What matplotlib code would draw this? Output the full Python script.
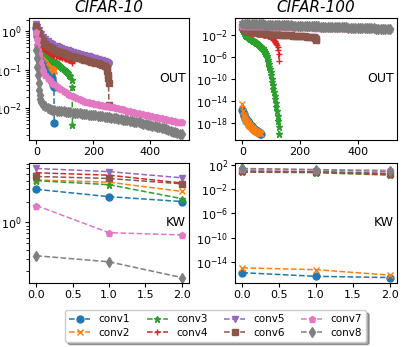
import numpy as np
import matplotlib
matplotlib.use("Agg")
import matplotlib.pyplot as plt

names = ["conv1", "conv2", "conv3", "conv4", "conv5", "conv6", "conv7", "conv8"]
colors = ["#1f77b4", "#ff7f0e", "#2ca02c", "#d62728", "#9467bd", "#8c564b", "#e377c2", "#7f7f7f"]
markers = ["o", "x", "*", "+", "v", "s", "p", "d"]

# ---------------- sample positions (index of sorted value) ----------------
idx_64 = list(range(0, 63, 2)) + [63]
c10_idx_128 = [0, 2] + list(range(4, 125, 4)) + [126, 127]
c10_idx_256 = [0, 4] + list(range(8, 249, 8)) + [250, 252, 253, 254, 255]
c10_idx_512 = list(range(0, 21, 2)) + list(range(24, 505, 8)) + [511]
c100_idx_128 = list(range(0, 127, 2)) + [127]
c100_idx_256 = list(range(0, 249, 8)) + [252, 254, 255]
c100_idx_512 = list(range(0, 505, 8)) + [511]

# ---------------- CIFAR-10, OUT ----------------
c10_conv1 = [1.2, 0.9, 0.75, 0.66, 0.59, 0.53, 0.48, 0.44, 0.41, 0.38, 0.35, 0.32, 0.3, 0.28,
             0.26, 0.245, 0.23, 0.215, 0.2, 0.18, 0.16, 0.14, 0.125, 0.11, 0.095, 0.082, 0.07,
             0.06, 0.052, 0.045, 0.04, 0.035, 0.0042]
c10_conv2 = [1.4, 1.0, 0.85, 0.75, 0.67, 0.6, 0.55, 0.5, 0.46, 0.43, 0.4, 0.37, 0.34, 0.32,
             0.3, 0.28, 0.26, 0.245, 0.23, 0.215, 0.2, 0.19, 0.175, 0.16, 0.15, 0.14, 0.13,
             0.12, 0.115, 0.11, 0.105, 0.1, 0.095]
c10_conv3 = [1.4, 1.0,
             0.8, 0.6, 0.5, 0.44, 0.39, 0.35, 0.31, 0.28, 0.26, 0.24,
             0.225, 0.21, 0.197, 0.185, 0.175, 0.165, 0.156, 0.148, 0.14, 0.133,
             0.126, 0.119, 0.112, 0.105, 0.099, 0.093, 0.087, 0.081, 0.075, 0.068,
             0.055,
             0.035, 0.0036]
c10_conv4 = [1.5, 1.1,
             0.9, 0.68, 0.55, 0.47, 0.41, 0.37, 0.34, 0.32, 0.305, 0.29, 0.28, 0.27, 0.26,
             0.25, 0.245, 0.24, 0.235, 0.23, 0.225, 0.22, 0.215, 0.21, 0.205, 0.2, 0.196, 0.192,
             0.188, 0.184, 0.18, 0.176, 0.17,
             0.165, 0.155]
c10_conv5 = [1.6, 1.3,
             1.1, 0.85, 0.72, 0.63, 0.56, 0.5, 0.46, 0.43, 0.41, 0.39,
             0.37, 0.35, 0.335, 0.32, 0.305, 0.29, 0.28, 0.27, 0.26, 0.25,
             0.24, 0.232, 0.224, 0.215, 0.207, 0.2, 0.192, 0.184, 0.176, 0.168,
             0.16,
             0.155, 0.15, 0.145, 0.14, 0.13]
c10_conv6 = [1.4, 1.1,
             0.9, 0.68, 0.56, 0.48, 0.43, 0.39, 0.36, 0.335, 0.315, 0.3,
             0.285, 0.27, 0.258, 0.246, 0.235, 0.225, 0.216, 0.207, 0.199, 0.192,
             0.185, 0.178, 0.171, 0.165, 0.159, 0.153, 0.147, 0.141, 0.135, 0.128,
             0.115,
             0.095, 0.075, 0.06, 0.045, 0.012]
c10_conv7 = [0.95, 0.65, 0.45, 0.33, 0.26, 0.21, 0.175, 0.15, 0.13, 0.115, 0.105,
             0.092, 0.075, 0.063, 0.054, 0.047, 0.042, 0.038, 0.034, 0.031, 0.028,
             0.026, 0.024, 0.0225, 0.021, 0.0197, 0.0185, 0.0175, 0.0166, 0.0158, 0.015,
             0.0145, 0.014, 0.0135, 0.0131, 0.0127, 0.0124, 0.0121, 0.0118, 0.0115, 0.0112,
             0.0109, 0.0106, 0.0103, 0.01, 0.0097, 0.0094, 0.0091, 0.0088, 0.0085, 0.0082,
             0.008, 0.0078, 0.0075, 0.0073, 0.0071, 0.0069, 0.0067, 0.0065, 0.0063, 0.0061,
             0.0059, 0.0057, 0.0055, 0.0054, 0.0052, 0.0051, 0.0049, 0.0048, 0.0046, 0.0045,
             0.0044, 0.0043]
c10_conv8 = [0.33, 0.2, 0.12, 0.075, 0.045, 0.03, 0.022, 0.018, 0.016, 0.0145, 0.0135,
             0.0125, 0.0115, 0.0105, 0.0097, 0.0092, 0.0089, 0.0087, 0.0085, 0.0084, 0.0083,
             0.0082, 0.008, 0.0079, 0.0078, 0.0076, 0.0075, 0.0074, 0.0072, 0.0071, 0.007,
             0.0069, 0.0068, 0.0067, 0.0066, 0.0065, 0.0064, 0.0062, 0.0061, 0.006, 0.0059,
             0.0057, 0.0056, 0.0055, 0.0054, 0.0053, 0.0051, 0.005, 0.0049, 0.0048, 0.0046,
             0.0045, 0.0044, 0.0043, 0.0041, 0.004, 0.0039, 0.0038, 0.0037, 0.0035, 0.0034,
             0.0033, 0.0032, 0.0031, 0.003, 0.0029, 0.0028, 0.0026, 0.0025, 0.0024, 0.0023,
             0.0022, 0.0021]

# ---------------- CIFAR-100, OUT (log10 of values) ----------------
c100_conv1_log = [-15.6, -16.0, -16.4, -16.7, -16.9, -17.1, -17.3, -17.45, -17.6, -17.75, -17.9,
                  -18.0, -18.15, -18.3, -18.4, -18.5, -18.65, -18.75, -18.85, -18.95, -19.05,
                  -19.15, -19.25, -19.35, -19.45, -19.5, -19.6, -19.65, -19.7, -19.8, -19.85,
                  -19.95, -20.1]
c100_conv2_log = [-14.6, -15.8, -16.5, -16.9, -17.2, -17.4, -17.6, -17.75, -17.9, -18.05, -18.2,
                  -18.3, -18.45, -18.55, -18.65, -18.75, -18.85, -18.95, -19.05, -19.15, -19.25,
                  -19.35, -19.4, -19.5, -19.55, -19.6, -19.65, -19.7, -19.75, -19.8, -19.85,
                  -19.9, -19.95]
c100_conv3_log = [-1.0, -1.3, -1.6, -1.75, -1.9, -2.0, -2.1, -2.2, -2.3, -2.4,
                  -2.5, -2.57, -2.65, -2.72, -2.8, -2.87, -2.95, -3.0, -3.05, -3.1,
                  -3.15, -3.22, -3.3, -3.37, -3.45, -3.52, -3.6, -3.7, -3.8, -3.9,
                  -4.0, -4.1, -4.2, -4.3, -4.4, -4.5, -4.6, -4.75, -4.9, -5.1,
                  -5.3, -5.6, -5.9, -6.25, -6.6, -7.0, -7.4, -7.85, -8.3, -8.85,
                  -9.4, -10.0, -10.6, -11.2, -11.8, -12.45, -13.1, -13.75, -14.4, -15.1,
                  -15.8, -16.7, -17.6, -18.8,
                  -20.0]
c100_conv4_log = [-1.2, -1.3, -1.35, -1.4, -1.43, -1.46, -1.49, -1.52, -1.54, -1.56,
                  -1.58, -1.6, -1.62, -1.64, -1.66, -1.67, -1.69, -1.7, -1.72, -1.73,
                  -1.75, -1.76, -1.78, -1.79, -1.8, -1.82, -1.83, -1.85, -1.86, -1.88,
                  -1.89, -1.91, -1.92, -1.94, -1.96, -1.98, -2.0, -2.01, -2.02, -2.03,
                  -2.05, -2.08, -2.11, -2.14, -2.17, -2.2, -2.24, -2.28, -2.33, -2.4,
                  -2.48, -2.57, -2.67, -2.78, -2.9, -3.03, -3.17, -3.32, -3.5, -3.7,
                  -3.95, -4.3, -4.8, -5.6,
                  -6.7]
c100_conv5_log = [-0.1, -0.16, -0.19, -0.21, -0.23, -0.25, -0.27, -0.29, -0.31, -0.33,
                  -0.35, -0.37, -0.39, -0.41, -0.43, -0.45, -0.47, -0.49, -0.51, -0.53,
                  -0.55, -0.57, -0.59, -0.61, -0.63, -0.65, -0.67, -0.69, -0.71, -0.73,
                  -0.75, -0.78,
                  -0.8, -0.82, -0.85]
c100_conv6_log = [-0.6, -1.1, -1.3, -1.42, -1.5, -1.56, -1.61, -1.66, -1.7, -1.74,
                  -1.78, -1.82, -1.85, -1.89, -1.92, -1.96, -1.99, -2.02, -2.06, -2.09,
                  -2.12, -2.15, -2.18, -2.21, -2.24, -2.27, -2.3, -2.33, -2.36, -2.39,
                  -2.42, -2.47,
                  -2.6, -2.75, -3.0]
c100_conv7_log = [-0.4, -0.42, -0.43, -0.44, -0.45, -0.46, -0.47, -0.48, -0.49, -0.5,
                  -0.51, -0.52, -0.53, -0.54, -0.55, -0.56, -0.57, -0.58, -0.59, -0.6,
                  -0.61, -0.62, -0.63, -0.64, -0.65, -0.66, -0.67, -0.68, -0.69, -0.7,
                  -0.71, -0.72, -0.73, -0.74, -0.74, -0.75, -0.76, -0.76, -0.77, -0.77,
                  -0.78, -0.78, -0.79, -0.79, -0.8, -0.8, -0.81, -0.81, -0.82, -0.82,
                  -0.83, -0.83, -0.84, -0.84, -0.85, -0.85, -0.86, -0.86, -0.87, -0.87,
                  -0.88, -0.88, -0.89, -0.89,
                  -0.9]
c100_conv8_log = [0.0, -0.03, -0.05, -0.07, -0.09, -0.1, -0.12, -0.13, -0.15, -0.16,
                  -0.18, -0.19, -0.21, -0.22, -0.24, -0.25, -0.27, -0.28, -0.3, -0.31,
                  -0.33, -0.34, -0.36, -0.37, -0.39, -0.4, -0.42, -0.43, -0.45, -0.46,
                  -0.48, -0.49, -0.51, -0.52, -0.54, -0.55, -0.57, -0.58, -0.6, -0.61,
                  -0.63, -0.64, -0.66, -0.67, -0.69, -0.7, -0.72, -0.73, -0.75, -0.76,
                  -0.78, -0.79, -0.81, -0.82, -0.84, -0.85, -0.87, -0.88, -0.9, -0.91,
                  -0.93, -0.94, -0.96, -0.98,
                  -1.0]

# ---------------- KW ----------------
kw_x = [0, 1, 2]
c10_kw = {
    "conv1": [3.0, 2.35, 2.0],
    "conv2": [4.1, 3.8, 2.8],
    "conv3": [4.0, 3.5, 2.2],
    "conv4": [5.2, 4.8, 3.7],
    "conv5": [6.0, 5.4, 4.4],
    "conv6": [4.6, 4.3, 3.6],
    "conv7": [1.75, 0.71, 0.66],
    "conv8": [0.33, 0.27, 0.16],
}
c100_kw_log = {
    "conv1": [-15.8, -16.4, -16.6],
    "conv2": [-15.0, -15.3, -16.2],
    "conv3": [0.8, 0.7, 0.3],
    "conv4": [0.9, 0.8, 0.4],
    "conv5": [1.0, 0.9, 0.6],
    "conv6": [0.9, 0.85, 0.5],
    "conv7": [1.3, 1.2, 1.1],
    "conv8": [1.4, 1.2, 0.9],
}

c10_out = [(idx_64, c10_conv1), (idx_64, c10_conv2), (c10_idx_128, c10_conv3),
           (c10_idx_128, c10_conv4), (c10_idx_256, c10_conv5), (c10_idx_256, c10_conv6),
           (c10_idx_512, c10_conv7), (c10_idx_512, c10_conv8)]
c100_out = [(idx_64, c100_conv1_log), (idx_64, c100_conv2_log),
            (c100_idx_128, c100_conv3_log), (c100_idx_128, c100_conv4_log),
            (c100_idx_256, c100_conv5_log), (c100_idx_256, c100_conv6_log),
            (c100_idx_512, c100_conv7_log), (c100_idx_512, c100_conv8_log)]

plt.rcParams["font.family"] = "DejaVu Sans"
plt.rcParams["xtick.labelsize"] = 8
plt.rcParams["ytick.labelsize"] = 8

W, H = 415, 347
fig = plt.figure(figsize=(W / 100, H / 100), dpi=100)

def ax_at(x0, y0, x1, y1):
    return fig.add_axes([x0 / W, 1 - y1 / H, (x1 - x0) / W, (y1 - y0) / H])

ax_tl = ax_at(29, 18, 189, 140)
ax_tr = ax_at(235, 18, 397, 140)
ax_bl = ax_at(29, 163, 189, 283)
ax_br = ax_at(235, 163, 397, 283)

MS = 5
LW = 1.1
lines = []
for i in range(8):
    xs, ys = c10_out[i]
    ax_tl.plot(xs, ys, linestyle="--", marker=markers[i], color=colors[i], markersize=MS, lw=LW)
    xs, ys = c100_out[i]
    ax_tr.plot(xs, 10.0 ** np.array(ys), linestyle="--", marker=markers[i], color=colors[i],
               markersize=MS, lw=LW)
    ln, = ax_bl.plot(kw_x, c10_kw[names[i]], linestyle="--", marker=markers[i], color=colors[i],
                     markersize=MS, lw=LW, label=names[i])
    lines.append(ln)
    ax_br.plot(kw_x, 10.0 ** np.array(c100_kw_log[names[i]]), linestyle="--", marker=markers[i],
               color=colors[i], markersize=MS, lw=LW)

for ax in (ax_tl, ax_tr, ax_bl, ax_br):
    ax.set_yscale("log")
    ax.tick_params(length=3, pad=2)

ax_tl.set_xticks([0, 200, 400])
ax_tr.set_xticks([0, 200, 400])
ax_tr.set_yticks([1e-2, 1e-6, 1e-10, 1e-14, 1e-18])
ax_br.set_yticks([1e2, 1e-2, 1e-6, 1e-10, 1e-14])
ax_tr.minorticks_off()
ax_br.minorticks_off()
for ax in (ax_bl, ax_br):
    ax.set_xticks([0.0, 0.5, 1.0, 1.5, 2.0])

ax_tl.set_title("CIFAR-10", fontsize=11, style="italic", pad=4)
ax_tr.set_title("CIFAR-100", fontsize=11, style="italic", pad=4)

for ax, t in ((ax_tl, "OUT"), (ax_tr, "OUT"), (ax_bl, "KW"), (ax_br, "KW")):
    ax.text(0.98, 0.5, t, transform=ax.transAxes, ha="right", va="center", fontsize=9)

fig.legend(handles=lines, labels=names, ncol=4, loc="lower center",
           bbox_to_anchor=(0.52, 0.0), fontsize=7.5, shadow=True, fancybox=True,
           handlelength=2.0, columnspacing=1.6, borderpad=0.4, labelspacing=0.3)

fig.savefig("out.png", dpi=100)
